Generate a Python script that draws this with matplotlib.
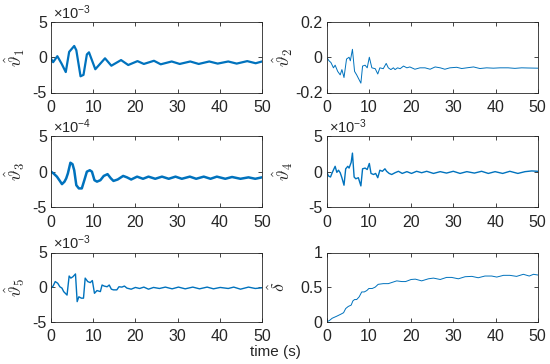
import matplotlib
matplotlib.use('Agg')
from matplotlib import pyplot as plt


# values (theta1, theta3, theta4, theta5 are in the
# units printed above each axes, i.e. x1e-3 / x1e-4)
T1 = [0, 0.5, 1.5, 2.5, 3.5, 4.3, 5.5, 6.0, 7.0, 7.7, 8.5, 9.0, 10.5, 12.8,
      14.3, 16.6, 18.3, 20.5, 22.0, 24.4, 26.0, 28.6, 30.5, 33.0, 35.0, 37.5,
      39.5, 42.0, 44.0, 46.5, 48.5, 50.0]
THETA1 = [-0.2, -0.7, 0.15, -0.9, -2.1, 0.76, 1.6, 1.0, -2.7, -2.5, 0.4, 0.7,
          -1.7, -0.15, -1.2, -0.4, -1.1, -0.55, -0.95, -0.5, -1.0, -0.6, -0.95,
          -0.6, -0.95, -0.6, -0.9, -0.6, -0.9, -0.55, -0.85, -0.6]

T2 = [0, 0.55, 1.0, 1.6, 2.0, 2.6, 3.2, 3.6, 4.1, 4.7, 5.3, 5.6, 6.1, 6.6,
      7.1, 8.1, 8.5, 9.1, 9.6, 10.1, 10.7, 11.5, 12.1, 12.6, 13.4, 14.1,
      14.6, 15.2, 15.8, 16.2, 16.8, 17.4, 18.2, 19.0, 19.7, 20.9, 22.1,
      23.3, 24.5, 25.7, 26.9, 28.0, 29.2, 30.8, 32.0, 33.2, 34.8, 36.3,
      37.9, 39.5, 41.1, 43.0, 44.6, 46.2, 47.8, 50.0]
THETA2 = [0.0, -0.02, -0.03, -0.06, -0.045, -0.08, -0.1, -0.07, -0.115, -0.01,
          0.0, -0.02, 0.045, -0.08, -0.1, -0.147, -0.05, -0.045, -0.06, 0.0,
          -0.06, -0.065, -0.095, -0.06, -0.065, -0.035, -0.06, -0.07, -0.06,
          -0.07, -0.06, -0.065, -0.05, -0.06, -0.055, -0.068, -0.06, -0.06,
          -0.068, -0.055, -0.06, -0.068, -0.06, -0.057, -0.064, -0.06, -0.055,
          -0.064, -0.06, -0.062, -0.06, -0.06, -0.063, -0.06, -0.061, -0.062]

T3 = [0, 0.6, 1.4, 2.1, 2.6, 3.2, 3.6, 4.0, 4.6, 5.1, 5.5, 6.0, 6.6, 7.3,
      7.9, 8.5, 9.2, 9.7, 10.3, 10.9, 11.7, 12.5, 13.4, 14.2, 14.8, 15.8,
      17.1, 18.0, 19.0, 20.4, 21.8, 23.1, 24.7, 26.3, 27.9, 29.5, 31.0,
      32.9, 34.4, 36.2, 37.8, 39.3, 41.3, 42.9, 44.9, 46.8, 48.4, 50.0]
THETA3 = [0.0, -0.25, -0.7, -1.3, -1.75, -1.4, -0.95, -0.25, 1.25, 1.05, 0.2,
          -1.9, -2.35, -2.35, -1.2, 0.0, 0.2, 0.0, -1.2, -1.4, -1.2, -0.6,
          -0.35, -0.95, -1.3, -1.1, -0.6, -0.8, -1.1, -0.7, -1.0, -0.7, -1.0,
          -0.7, -1.0, -0.7, -1.0, -0.7, -1.0, -0.7, -1.0, -0.7, -1.0, -0.75,
          -1.0, -0.8, -1.0, -0.8]

T4 = [0, 0.4, 0.9, 1.3, 2.0, 2.4, 2.8, 3.2, 3.6, 4.1, 4.5, 5.0, 5.3, 5.8,
      6.1, 6.5, 6.9, 7.5, 8.1, 8.5, 9.1, 9.6, 10.1, 10.5, 11.1, 11.6, 12.1,
      12.6, 13.2, 13.8, 14.2, 14.8, 15.4, 16.2, 17.0, 17.9, 19.0, 20.1,
      21.3, 22.5, 23.7, 25.3, 26.9, 28.4, 30.0, 31.6, 33.2, 35.0, 36.7,
      38.3, 39.9, 41.7, 43.4, 45.3, 47.0, 48.6, 50.0]
THETA4 = [0.0, -0.6, -0.75, -0.15, 0.75, -0.1, 0.2, -0.15, -0.85, -1.9, 0.4,
          0.75, 0.5, 1.3, 2.6, -0.75, -1.0, -0.85, -2.0, 0.4, 0.5, 0.3, 1.15,
          -0.25, -0.4, -0.25, -0.85, 0.2, 0.05, 0.4, 0.05, -0.25, -0.4, -0.15,
          0.05, -0.25, 0.0, -0.25, 0.05, -0.15, 0.05, -0.25, 0.0, -0.2, 0.05,
          -0.25, 0.0, -0.2, 0.05, -0.25, 0.0, -0.25, 0.05, -0.25, 0.0, 0.1,
          0.05]

T5 = [0, 0.5, 1.0, 1.6, 2.1, 2.6, 3.0, 3.4, 3.8, 4.3, 4.7, 5.2, 5.8, 6.2,
      6.6, 7.2, 7.7, 8.1, 8.7, 9.3, 9.8, 10.3, 10.9, 11.7, 12.1, 12.6, 13.3,
      13.8, 14.3, 14.8, 15.6, 16.1, 16.8, 17.4, 18.0, 19.0, 20.0, 21.0,
      22.0, 23.1, 24.3, 25.7, 27.1, 28.7, 30.2, 31.8, 33.6, 35.2, 37.0,
      38.5, 40.1, 42.0, 43.3, 44.9, 46.8, 48.4, 50.0]
THETA5 = [-0.15, 0.15, 0.8, 0.55, 0.05, -0.15, -0.65, -0.9, -1.15, 1.6, 1.3,
          1.5, 1.9, -2.1, -1.4, -1.6, -1.6, 1.3, 0.8, 0.65, 0.95, -0.9, -0.5,
          -0.65, 0.3, 0.15, 0.05, 0.3, -0.3, -0.4, -0.4, 0.05, 0.0, 0.15,
          -0.15, -0.3, -0.05, -0.2, 0.0, -0.3, -0.05, -0.2, 0.0, -0.25, 0.0,
          -0.25, 0.0, -0.25, 0.0, -0.25, -0.05, -0.2, 0.0, -0.3, 0.0, -0.2,
          -0.1]

T6 = [0, 0.6, 1.3, 2.4, 3.4, 4.0, 4.5, 5.1, 5.8, 6.2, 6.6, 7.1, 7.7, 8.3,
      8.9, 9.5, 10.0, 10.8, 11.5, 12.2, 13.4, 14.6, 15.6, 16.6, 17.8, 18.7,
      20.0, 21.0, 22.5, 24.1, 25.3, 26.9, 28.4, 29.6, 31.2, 32.8, 34.4,
      35.9, 37.5, 39.1, 40.3, 41.9, 43.4, 45.0, 46.6, 48.0, 49.0, 50.0]
DELTA = [0.0, 0.015, 0.05, 0.08, 0.11, 0.13, 0.19, 0.22, 0.24, 0.3, 0.32,
         0.32, 0.36, 0.43, 0.43, 0.45, 0.48, 0.48, 0.5, 0.54, 0.55, 0.55,
         0.57, 0.59, 0.58, 0.58, 0.61, 0.615, 0.59, 0.62, 0.63, 0.61, 0.64,
         0.64, 0.62, 0.65, 0.655, 0.635, 0.66, 0.66, 0.645, 0.67, 0.67,
         0.655, 0.685, 0.66, 0.685, 0.675]

XTICKS = [0, 10, 20, 30, 40, 50]

PANELS = [
    (T1, THETA1, r'$\hat{\vartheta}_1$', [-5, 0, 5], ['-5', '0', '5'], '-3', 1.6),
    (T2, THETA2, r'$\hat{\vartheta}_2$', [-0.2, 0, 0.2], ['-0.2', '0', '0.2'], None, 0.7),
    (T3, THETA3, r'$\hat{\vartheta}_3$', [-5, 0, 5], ['-5', '0', '5'], '-4', 1.8),
    (T4, THETA4, r'$\hat{\vartheta}_4$', [-5, 0, 5], ['-5', '0', '5'], '-3', 1.0),
    (T5, THETA5, r'$\hat{\vartheta}_5$', [-5, 0, 5], ['-5', '0', '5'], '-3', 1.0),
    (T6, DELTA, r'$\hat{\delta}$', [0, 0.5, 1], ['0', '0.5', '1'], None, 0.7),
]

LEFTS = [51 / 550, 326.7 / 550]
ROWS = [(1 - 92.5 / 364, 70.5 / 364), (1 - 207.3 / 364, 71.3 / 364),
        (1 - 321.7 / 364, 69.2 / 364)]
W = 211 / 550
LABEL_X = [-0.115, -0.15, -0.115, -0.15, -0.115, -0.18]

plt.rcParams['font.family'] = ['Liberation Sans', 'DejaVu Sans']
plt.rcParams['mathtext.fontset'] = 'cm'
plt.rcParams['axes.unicode_minus'] = False

fig = plt.figure(figsize=(5.5, 3.64), dpi=100)
dark = '#262626'

for i, (t, y, lab, yt, ytl, expo, lw) in enumerate(PANELS):
    row, col = divmod(i, 2)
    b, h = ROWS[row]
    ax = fig.add_axes([LEFTS[col], b, W, h])
    ax.plot(t, y, color='#0072BD', lw=lw)
    ax.set_xlim(0, 50)
    ax.set_ylim(yt[0], yt[-1])
    ax.set_xticks(XTICKS)
    ax.set_yticks(yt)
    ax.set_yticklabels(ytl)
    ax.tick_params(direction='in', top=True, right=True, length=3,
                   width=0.6, labelsize=11.5, colors=dark)
    ax.tick_params(axis='x', pad=5.5)
    ax.tick_params(axis='y', pad=3)
    for s in ax.spines.values():
        s.set_color(dark)
        s.set_linewidth(0.6)
    ax.set_ylabel(lab, fontsize=13, color=dark)
    ax.yaxis.set_label_coords(LABEL_X[i], 0.5)
    if expo:
        ax.text(0.01, 1.0, r'$\mathregular{\times10^{%s}}$' % expo,
                transform=ax.transAxes, fontsize=10.5, color=dark,
                ha='left', va='bottom')

fig.text(0.5, 1 - 352 / 364, 'time (s)', ha='center', va='center',
         fontsize=11, color=dark)

fig.savefig('out.png', dpi=100)
